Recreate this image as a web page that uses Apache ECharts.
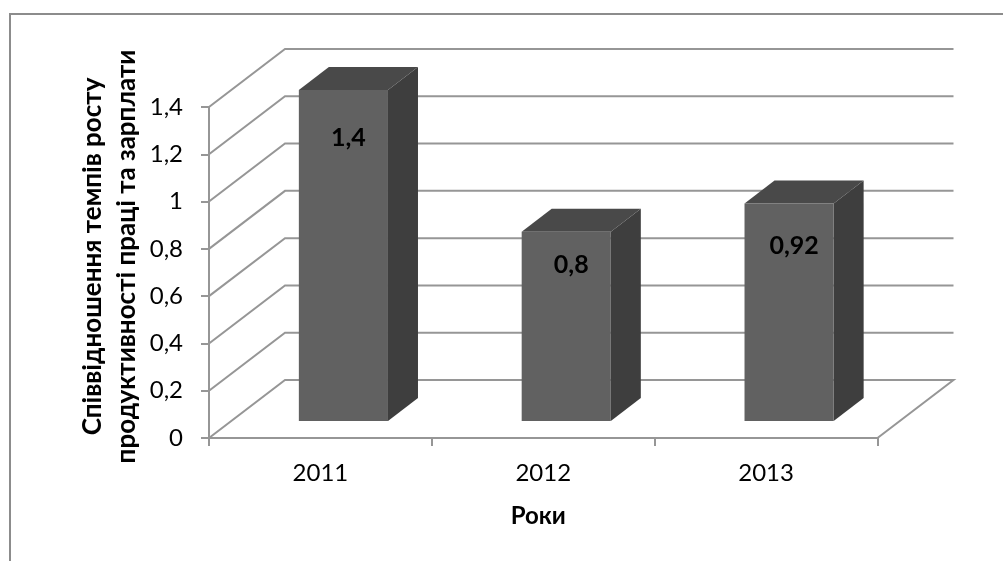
<!DOCTYPE html>
<html>
<head>
<meta charset="utf-8">
<style>
    html, body { margin: 0; padding: 0; background: #fff; }
    #chart { width: 1003px; height: 561px; }
</style>
</head>
<body>
<div id="chart"></div>
<script src="https://cdn.jsdelivr.net/npm/echarts@6/dist/echarts.min.js"></script>
<script>
const categories = ['2011', '2012', '2013']
const values = [1.4, 0.8, 0.92]
const yTicks = [0, 0.2, 0.4, 0.6, 0.8, 1, 1.2, 1.4]
const yTitle = 'Співвідношення темпів росту\nпродуктивності праці та зарплати'
const xTitle = 'Роки'

// 3d look, all in pixels
const wallDx = 76
const wallDy = 58
const barDx = 23
const barDy = 17
const depthDx = 30
const depthDy = 23
const labelDrop = [48, 33, 42]
const labelShift = 5

const fontName = 'Lato, "Noto Sans", sans-serif'
const lineColor = '#969696'
const comma = v => String(v).replace('.', ',')

const chart = echarts.init(document.getElementById('chart'))

function renderWall(params, api) {
    const grid = params.coordSys
    const y = api.coord([0, api.value(0)])[1]
    const left = grid.x
    const right = grid.x + grid.width
    const style = { stroke: lineColor, lineWidth: 2, fill: 'none' }
    const points = [[left, y], [left + wallDx, y - wallDy], [right + wallDx, y - wallDy]]
    // only the floor closes on the right side
    if (params.dataIndex === 0) points.push([right, y])
    return { type: 'polyline', shape: { points }, style }
}

function renderBar(params, api) {
    const top = api.coord([api.value(0), api.value(1)])
    const base = api.coord([api.value(0), 0])
    const w = api.size([1, 0])[0] * 0.4
    const x0 = top[0] - w / 2 + barDx
    const x1 = x0 + w
    const yt = top[1] - barDy
    const yb = base[1] - barDy
    const i = params.dataIndex
    return {
        type: 'group',
        children: [
            {
                type: 'polygon',
                shape: { points: [[x1, yt], [x1 + depthDx, yt - depthDy], [x1 + depthDx, yb - depthDy], [x1, yb]] },
                style: { fill: '#3e3e3e' }
            },
            {
                type: 'polygon',
                shape: { points: [[x0, yt], [x0 + depthDx, yt - depthDy], [x1 + depthDx, yt - depthDy], [x1, yt]] },
                style: { fill: '#494949' }
            },
            {
                type: 'rect',
                shape: { x: x0, y: yt, width: w, height: yb - yt },
                style: { fill: '#616161' }
            },
            {
                type: 'text',
                style: {
                    text: comma(api.value(1)),
                    x: (x0 + x1) / 2 + labelShift,
                    y: yt + labelDrop[i],
                    fill: '#000',
                    font: 'bold 25px ' + fontName,
                    align: 'center',
                    verticalAlign: 'middle'
                }
            }
        ]
    }
}

const option = {
    animation: false,
    backgroundColor: '#fff',
    textStyle: { fontFamily: fontName },
    graphic: [{
        type: 'polyline',
        silent: true,
        shape: { points: [[10, 561], [10, 14], [1003, 14]] },
        style: { stroke: '#8c8c8c', lineWidth: 2, fill: 'none' }
    }],
    grid: { left: 209, top: 107, width: 668.5, height: 331 },
    xAxis: {
        type: 'category',
        data: categories,
        name: xTitle,
        nameLocation: 'middle',
        nameGap: 66,
        nameMoveOverlap: false,
        nameTextStyle: {
            color: '#000', fontSize: 24, fontWeight: 'bold',
            fontFamily: fontName, padding: [0, 10, 0, 0]
        },
        axisLine: { lineStyle: { color: lineColor, width: 2 } },
        axisTick: { show: true, alignWithLabel: false, length: 8, lineStyle: { color: lineColor, width: 2 } },
        axisLabel: { color: '#000', fontSize: 24, margin: 23, fontFamily: fontName }
    },
    yAxis: {
        type: 'value',
        min: 0,
        max: yTicks[yTicks.length - 1],
        interval: 0.2,
        name: yTitle,
        nameLocation: 'middle',
        nameRotate: 90,
        nameGap: 65,
        nameMoveOverlap: false,
        nameTextStyle: {
            color: '#000', fontSize: 26, fontWeight: 'bold', lineHeight: 34,
            fontFamily: fontName, padding: [0, 0, 0, 32]
        },
        splitLine: { show: false },
        axisLine: { show: true, lineStyle: { color: lineColor, width: 2 } },
        axisTick: { show: true, length: 8, lineStyle: { color: lineColor, width: 2 } },
        axisLabel: { color: '#000', fontSize: 24, margin: 26, fontFamily: fontName, formatter: comma }
    },
    series: [
        {
            type: 'custom',
            z: 1,
            silent: true,
            renderItem: renderWall,
            encode: { y: 0 },
            data: yTicks.map(v => [v])
        },
        {
            type: 'custom',
            z: 3,
            renderItem: renderBar,
            encode: { x: 0, y: 1 },
            data: values.map((v, i) => [i, v])
        }
    ]
}
chart.setOption(option)
</script>
</body>
</html>
